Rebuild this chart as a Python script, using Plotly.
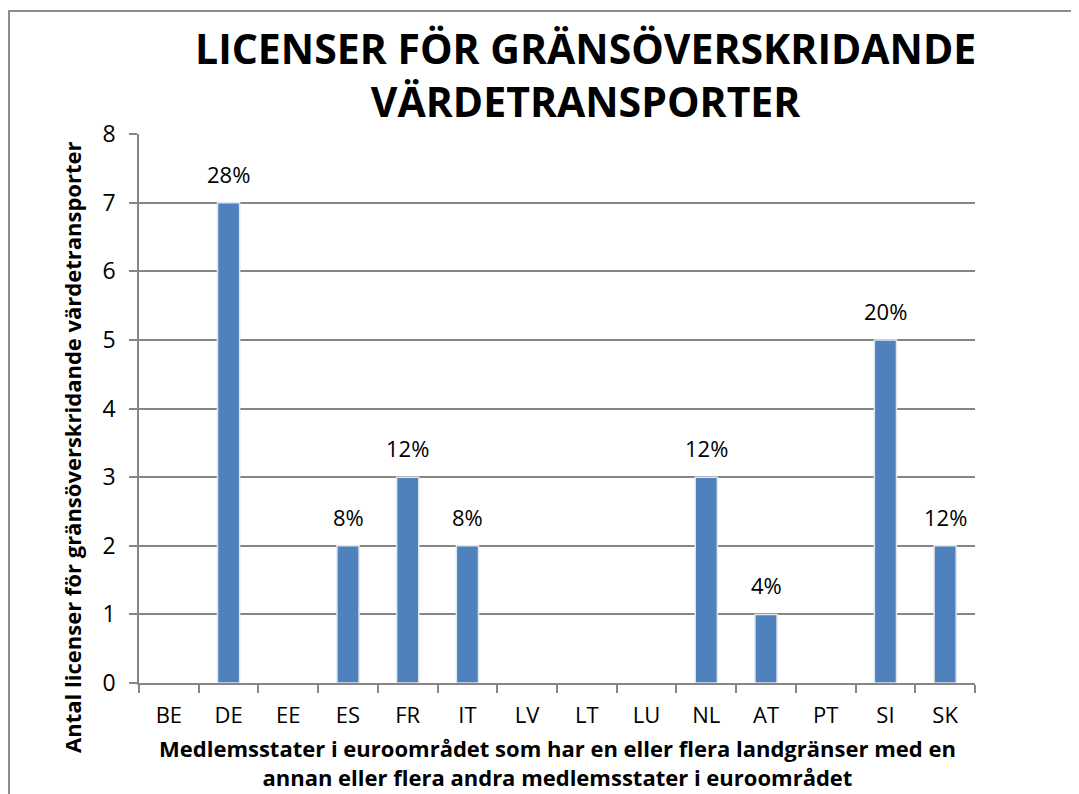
import plotly.graph_objects as go

categories = ["BE", "DE", "EE", "ES", "FR", "IT", "LV", "LT", "LU", "NL", "AT", "PT", "SI", "SK"]
values = [0, 7, 0, 2, 3, 2, 0, 0, 0, 3, 1, 0, 5, 2]
labels = ["", "28%", "", "8%", "12%", "8%", "", "", "", "12%", "4%", "", "20%", "12%"]
y_ticks = [0, 1, 2, 3, 4, 5, 6, 7, 8]

title_text = "LICENSER FÖR GRÄNSÖVERSKRIDANDE<br>VÄRDETRANSPORTER"
x_title = "Medlemsstater i euroområdet som har en eller flera landgränser med en<br>annan eller flera andra medlemsstater i euroområdet"
y_title = "Antal licenser för gränsöverskridande värdetransporter"

FONT = "Open Sans"
GRID = "#868686"
BAR = "#4F81BD"

outline_widths = [1.5 if v > 0 else 0 for v in values]

fig = go.Figure()
fig.add_trace(go.Bar(
    x=categories, y=values, width=0.37,
    marker=dict(color=BAR, line=dict(color="#dfe6ee", width=outline_widths)),
    hoverinfo="x+y",
))

for c, v, t in zip(categories, values, labels):
    if t:
        fig.add_annotation(x=c, y=v, text=t, showarrow=False, yanchor="bottom",
                           yshift=12, font=dict(family=FONT, size=22, color="#000"))

# title
fig.add_annotation(xref="paper", yref="paper", x=0.5335, y=1.1075,
                   xanchor="center", yanchor="middle", text=title_text, showarrow=False,
                   font=dict(family=FONT, size=41, color="#000", weight="bold"))
# x-axis title
fig.add_annotation(xref="paper", yref="paper", x=0.5, y=-0.1457,
                   xanchor="center", yanchor="middle", text=x_title, showarrow=False,
                   font=dict(family=FONT, size=22, color="#000", weight="bold"))
# y-axis title
fig.add_annotation(xref="paper", yref="paper", x=-0.0802, y=0.43,
                   xanchor="center", yanchor="middle", text=y_title, textangle=-90,
                   showarrow=False,
                   font=dict(family=FONT, size=22, color="#000", weight="bold"))

fig.update_layout(
    width=1079, height=794,
    margin=dict(l=131, r=112, t=126, b=119),
    paper_bgcolor="white", plot_bgcolor="white",
    showlegend=False,
    shapes=[dict(type="rect", xref="paper", yref="paper",
                 x0=-0.1555, x1=1.5, y0=-0.5, y1=1.224,
                 line=dict(color="#8c8c8c", width=2), layer="below")],
)

fig.update_xaxes(
    type="category", showgrid=False, showline=True, linecolor=GRID, linewidth=1.5,
    ticks="outside", ticklen=8, tickcolor=GRID, tickwidth=1.5, tickson="boundaries",
    ticklabelstandoff=12,
    tickfont=dict(family=FONT, size=22, color="#000"),
)
fig.update_yaxes(
    range=[0, 8], tickvals=y_ticks, showgrid=True, gridcolor=GRID, gridwidth=1.5,
    showline=True, linecolor=GRID, linewidth=1.5, zeroline=False,
    ticks="outside", ticklen=8, tickcolor=GRID, tickwidth=1.5, ticklabelstandoff=9,
    tickfont=dict(family=FONT, size=23, color="#000"),
)

fig.write_html("out.html")
